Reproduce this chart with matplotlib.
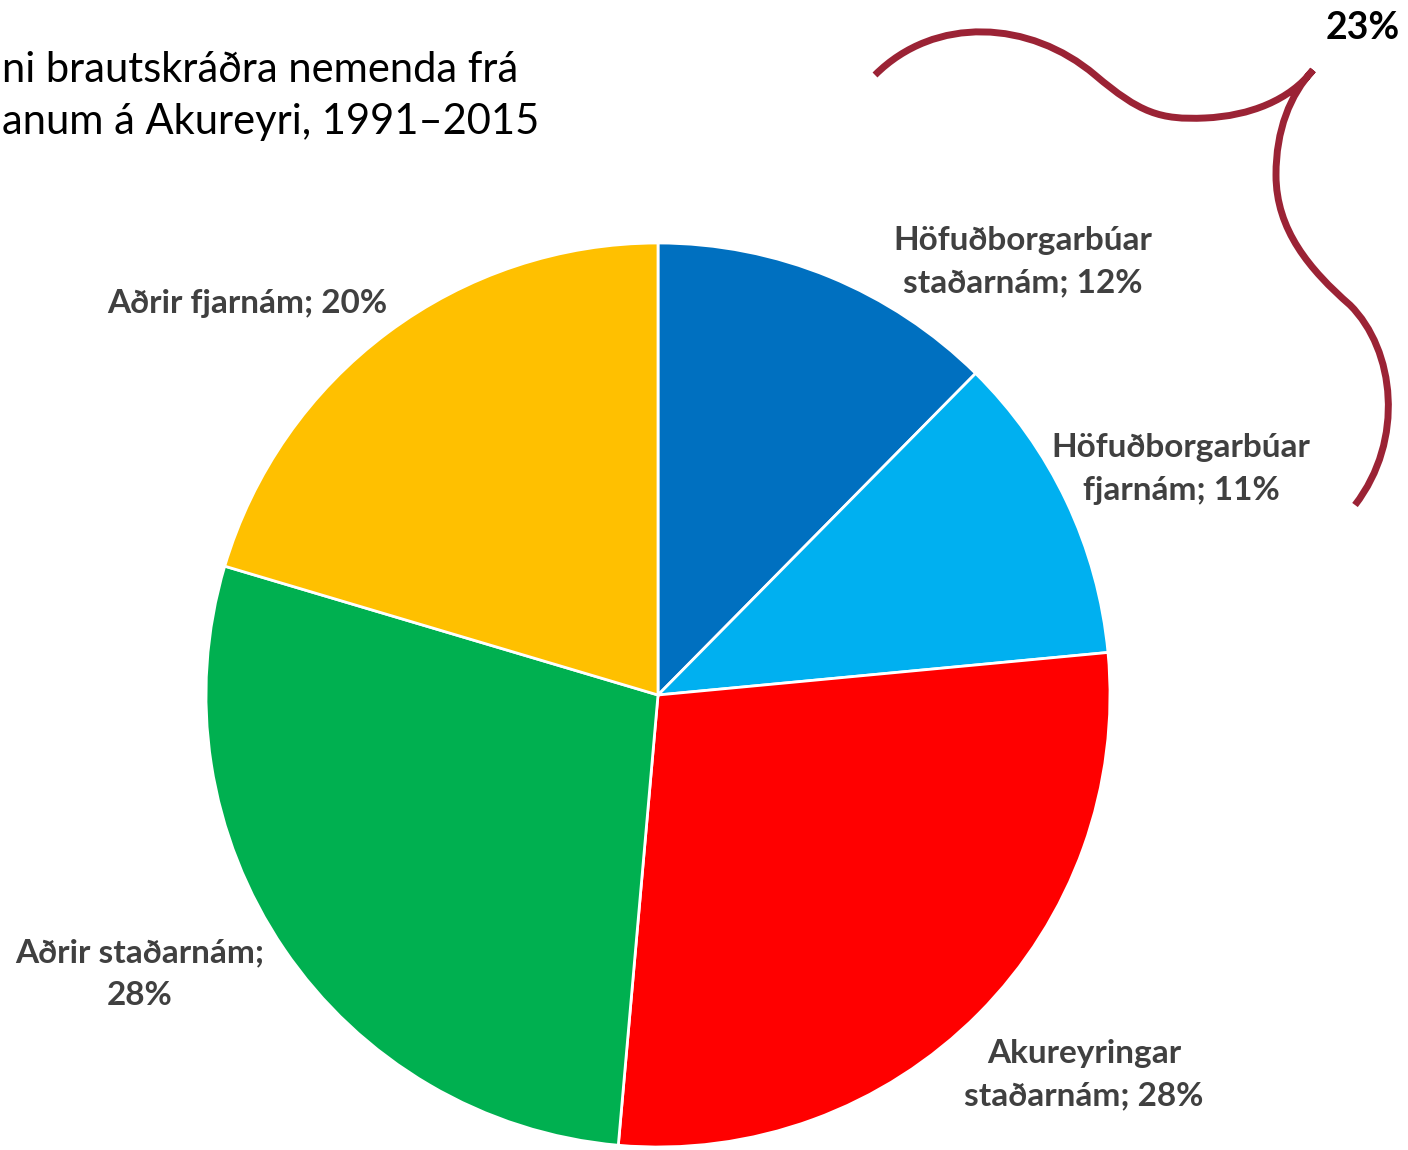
import matplotlib
matplotlib.use("Agg")
import matplotlib.pyplot as plt
from matplotlib.path import Path
from matplotlib.patches import PathPatch

# data (clockwise from 12 o'clock)
groups = ["Höfuðborgarbúar staðarnám", "Höfuðborgarbúar fjarnám",
          "Akureyringar staðarnám", "Aðrir staðarnám", "Aðrir fjarnám"]
shares = [12.4, 11.1, 27.9, 28.2, 20.4]
share_text = ["12%", "11%", "28%", "28%", "20%"]
colors = ["#0070C0", "#00B0F0", "#FF0000", "#00B050", "#FFC000"]
brace_total = "23%"

title_l1 = "ni brautskráðra nemenda frá"
title_l2 = "anum á Akureyri, 1991–2015"

W, H = 1408, 1150
FONT = ["Lato", "DejaVu Sans"]

fig = plt.figure(figsize=(W / 100, H / 100), dpi=100)
ax = fig.add_axes([0, 0, 1, 1])


def Y(y):  # top-down pixel -> data
    return H - y


ax.pie(shares, colors=colors, startangle=90, counterclock=False,
       center=(658, Y(695)), radius=452, frame=True,
       wedgeprops={"edgecolor": "white", "linewidth": 2})
ax.set_xlim(0, W); ax.set_ylim(0, H); ax.axis("off")

# label text, split as in the reference
lbl = [f"Höfuðborgarbúar\nstaðarnám; {share_text[0]}",
       f"Höfuðborgarbúar\nfjarnám; {share_text[1]}",
       f"Akureyringar\nstaðarnám; {share_text[2]}",
       f"Aðrir staðarnám;\n{share_text[3]}",
       f"Aðrir fjarnám; {share_text[4]}"]
lpos = [(1023, 262), (1181, 469), (1084, 1075), (140, 974), (247, 303)]
for t, (x, y) in zip(lbl, lpos):
    ax.text(x, Y(y), t, ha="center", va="center", fontsize=24,
            fontweight="bold", color="#404040", family=FONT, linespacing=1.55)

ax.text(2, Y(70), title_l1, ha="left", va="center", fontsize=30,
        color="black", family=FONT)
ax.text(2, Y(122), title_l2, ha="left", va="center", fontsize=30,
        color="black", family=FONT)

# curly brace
pts = [(875, 75), (935, 15), (1030, 20), (1095, 75),
       (1140, 113), (1160, 120), (1205, 118),
       (1250, 116), (1290, 100), (1313, 70),
       (1290, 95), (1276, 130), (1276, 175),
       (1276, 230), (1310, 270), (1350, 305),
       (1395, 350), (1405, 440), (1355, 505)]
codes = [Path.MOVETO] + [Path.CURVE4] * (len(pts) - 1)
brace = Path([(x, Y(y)) for x, y in pts], codes)
ax.add_patch(PathPatch(brace, facecolor="none", edgecolor="#9B2335",
                       lw=5, capstyle="butt"))
ax.text(1363, Y(28), brace_total, ha="center", va="center", fontsize=27,
        fontweight="bold", color="black", family=FONT)

fig.savefig("out.png", dpi=100)
